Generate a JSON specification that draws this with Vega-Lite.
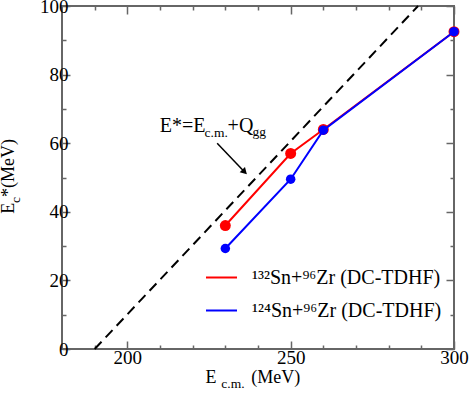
{
  "$schema": "https://vega.github.io/schema/vega-lite/v6.json",
  "width": 392,
  "height": 343,
  "autosize": {"type": "none"},
  "padding": {"left": 62, "top": 6, "right": 15, "bottom": 47},
  "background": "white",
  "config": {
    "view": {"stroke": "#666", "strokeWidth": 2},
    "font": "Liberation Serif",
    "axis": {"domain": false, "grid": false, "tickColor": "#666", "tickWidth": 1.5, "labelFont": "Liberation Serif", "labelFontSize": 19, "labelColor": "black", "title": null}
  },
  "datasets": {
    "dc": [
      {"Ecm": 230, "Ex": 36.0, "series": "¹³²Sn+⁹⁶Zr (DC-TDHF)"},
      {"Ecm": 250, "Ex": 57.0, "series": "¹³²Sn+⁹⁶Zr (DC-TDHF)"},
      {"Ecm": 260, "Ex": 64.0, "series": "¹³²Sn+⁹⁶Zr (DC-TDHF)"},
      {"Ecm": 300, "Ex": 92.5, "series": "¹³²Sn+⁹⁶Zr (DC-TDHF)"},
      {"Ecm": 230, "Ex": 29.3, "series": "¹²⁴Sn+⁹⁶Zr (DC-TDHF)"},
      {"Ecm": 250, "Ex": 49.5, "series": "¹²⁴Sn+⁹⁶Zr (DC-TDHF)"},
      {"Ecm": 260, "Ex": 63.8, "series": "¹²⁴Sn+⁹⁶Zr (DC-TDHF)"},
      {"Ecm": 300, "Ex": 92.5, "series": "¹²⁴Sn+⁹⁶Zr (DC-TDHF)"}
    ],
    "qline": [{"Ecm": 190, "Ex": 0}, {"Ecm": 289, "Ex": 100}],
    "arrow": [{"Ecm": 227.5, "Ex": 60.0}, {"Ecm": 235.9, "Ex": 51.6}],
    "arrowhead": [{"Ecm": 235.9, "Ex": 51.6}],
    "annBig": [{"t": "E*=E", "Ecm": 209.9, "Ex": 63.35}, {"t": "+Q", "Ecm": 230.7, "Ex": 63.35}],
    "annSub": [{"t": "c.m.", "Ecm": 223.65, "Ex": 61.9}, {"t": "gg", "Ecm": 238.3, "Ex": 62.0}],
    "xtBig": [{"t": "E", "Ecm": 223.96, "Ex": 0}, {"t": "(MeV)", "Ecm": 237.95, "Ex": 0}],
    "xtSub": [{"t": "c.m.", "Ecm": 228.77, "Ex": 0}],
    "ytBig": [{"t": "E", "Ecm": 165.4, "Ex": 39.4}, {"t": "*(MeV)", "Ecm": 165.4, "Ex": 44.3}],
    "ytSub": [{"t": "c", "Ecm": 167.0, "Ex": 42.6}]
  },
  "layer": [
    {
      "data": {"name": "qline"},
      "mark": {"type": "line", "color": "black", "strokeWidth": 2, "strokeDash": [10, 6]},
      "encoding": {
        "x": {"field": "Ecm", "type": "quantitative", "scale": {"domain": [180, 300], "nice": false, "zero": false},
              "axis": {"orient": "bottom", "values": [190, 200, 210, 220, 230, 240, 250, 260, 270, 280, 290, 300],
                       "labelExpr": "datum.value % 50 === 0 ? datum.label : ''",
                       "tickSize": {"condition": {"test": "datum.value % 50 === 0", "value": -8}, "value": -4},
                       "labelPadding": 7, "labelFlush": false}},
        "y": {"field": "Ex", "type": "quantitative", "scale": {"domain": [0, 100], "nice": false},
              "axis": {"orient": "left", "values": [0, 10, 20, 30, 40, 50, 60, 70, 80, 90, 100],
                       "labelExpr": "datum.value % 20 === 0 ? datum.label : ''",
                       "tickSize": {"condition": {"test": "datum.value % 20 === 0", "value": -8}, "value": -4},
                       "labelPadding": 2, "labelFlush": false}}
      }
    },
    {
      "data": {"name": "dc"},
      "transform": [{"filter": "datum.series === '¹³²Sn+⁹⁶Zr (DC-TDHF)'"}],
      "mark": {"type": "line", "strokeWidth": 2},
      "encoding": {
        "x": {"field": "Ecm", "type": "quantitative",
              "axis": {"orient": "top", "values": [190, 200, 210, 220, 230, 240, 250, 260, 270, 280, 290, 300], "labels": false,
                       "tickSize": {"condition": {"test": "datum.value % 50 === 0", "value": -8}, "value": -4}}},
        "y": {"field": "Ex", "type": "quantitative",
              "axis": {"orient": "right", "values": [0, 10, 20, 30, 40, 50, 60, 70, 80, 90, 100], "labels": false,
                       "tickSize": {"condition": {"test": "datum.value % 20 === 0", "value": -8}, "value": -4}}},
        "color": {"field": "series", "type": "nominal",
                  "scale": {"domain": ["¹³²Sn+⁹⁶Zr (DC-TDHF)", "¹²⁴Sn+⁹⁶Zr (DC-TDHF)"], "range": ["#ff0000", "#0000ff"]},
                  "legend": {"orient": "none", "legendX": 143, "legendY": 255, "title": null, "symbolType": "stroke",
                             "symbolSize": 961, "symbolStrokeWidth": 2, "labelFont": "Liberation Serif", "labelFontSize": 20,
                             "labelColor": "black", "labelOffset": 14, "rowPadding": 6, "labelLimit": 400}}
      }
    },
    {
      "data": {"name": "dc"},
      "transform": [{"filter": "datum.series === '¹³²Sn+⁹⁶Zr (DC-TDHF)'"}],
      "mark": {"type": "point", "filled": true, "opacity": 1, "size": 120},
      "encoding": {
        "x": {"field": "Ecm", "type": "quantitative", "axis": null},
        "y": {"field": "Ex", "type": "quantitative", "axis": null},
        "color": {"field": "series", "type": "nominal", "legend": null}
      }
    },
    {
      "data": {"name": "dc"},
      "transform": [{"filter": "datum.series === '¹²⁴Sn+⁹⁶Zr (DC-TDHF)'"}],
      "mark": {"type": "line", "strokeWidth": 2},
      "encoding": {
        "x": {"field": "Ecm", "type": "quantitative", "axis": null},
        "y": {"field": "Ex", "type": "quantitative", "axis": null},
        "color": {"field": "series", "type": "nominal", "legend": null}
      }
    },
    {
      "data": {"name": "dc"},
      "transform": [{"filter": "datum.series === '¹²⁴Sn+⁹⁶Zr (DC-TDHF)'"}],
      "mark": {"type": "point", "filled": true, "opacity": 1, "size": 90},
      "encoding": {
        "x": {"field": "Ecm", "type": "quantitative", "axis": null},
        "y": {"field": "Ex", "type": "quantitative", "axis": null},
        "color": {"field": "series", "type": "nominal", "legend": null}
      }
    },
    {
      "data": {"name": "arrow"},
      "mark": {"type": "line", "color": "black", "strokeWidth": 1.5},
      "encoding": {
        "x": {"field": "Ecm", "type": "quantitative", "axis": null},
        "y": {"field": "Ex", "type": "quantitative", "axis": null}
      }
    },
    {
      "data": {"name": "arrowhead"},
      "mark": {"type": "point", "shape": "triangle-down", "filled": true, "color": "black", "opacity": 1, "size": 55, "angle": 315},
      "encoding": {
        "x": {"field": "Ecm", "type": "quantitative", "axis": null},
        "y": {"field": "Ex", "type": "quantitative", "axis": null}
      }
    },
    {
      "data": {"name": "annBig"},
      "mark": {"type": "text", "font": "Liberation Serif", "fontSize": 20, "align": "left", "baseline": "alphabetic", "color": "black"},
      "encoding": {
        "x": {"field": "Ecm", "type": "quantitative", "axis": null},
        "y": {"field": "Ex", "type": "quantitative", "axis": null},
        "text": {"field": "t"}
      }
    },
    {
      "data": {"name": "annSub"},
      "mark": {"type": "text", "font": "Liberation Serif", "fontSize": 13.5, "align": "left", "baseline": "alphabetic", "color": "black"},
      "encoding": {
        "x": {"field": "Ecm", "type": "quantitative", "axis": null},
        "y": {"field": "Ex", "type": "quantitative", "axis": null},
        "text": {"field": "t"}
      }
    },
    {
      "data": {"name": "xtBig"},
      "mark": {"type": "text", "font": "Liberation Serif", "fontSize": 18, "align": "left", "baseline": "alphabetic", "dy": 33.5, "color": "black"},
      "encoding": {
        "x": {"field": "Ecm", "type": "quantitative", "axis": null},
        "y": {"field": "Ex", "type": "quantitative", "axis": null},
        "text": {"field": "t"}
      }
    },
    {
      "data": {"name": "xtSub"},
      "mark": {"type": "text", "font": "Liberation Serif", "fontSize": 13.5, "align": "left", "baseline": "alphabetic", "dy": 39.2, "color": "black"},
      "encoding": {
        "x": {"field": "Ecm", "type": "quantitative", "axis": null},
        "y": {"field": "Ex", "type": "quantitative", "axis": null},
        "text": {"field": "t"}
      }
    },
    {
      "data": {"name": "ytBig"},
      "mark": {"type": "text", "font": "Liberation Serif", "fontSize": 18, "align": "left", "baseline": "alphabetic", "angle": 270, "color": "black"},
      "encoding": {
        "x": {"field": "Ecm", "type": "quantitative", "axis": null},
        "y": {"field": "Ex", "type": "quantitative", "axis": null},
        "text": {"field": "t"}
      }
    },
    {
      "data": {"name": "ytSub"},
      "mark": {"type": "text", "font": "Liberation Serif", "fontSize": 13.5, "align": "left", "baseline": "alphabetic", "angle": 270, "color": "black"},
      "encoding": {
        "x": {"field": "Ecm", "type": "quantitative", "axis": null},
        "y": {"field": "Ex", "type": "quantitative", "axis": null},
        "text": {"field": "t"}
      }
    }
  ]
}
